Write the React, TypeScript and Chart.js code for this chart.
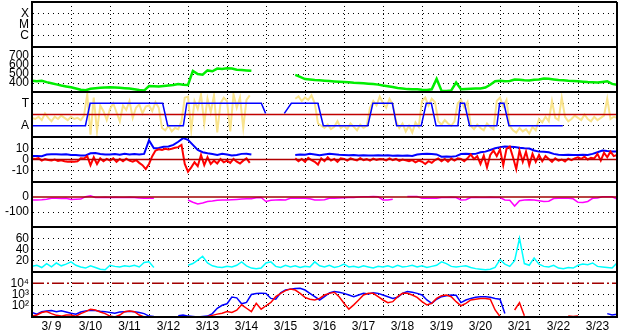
import React, { useEffect, useRef } from 'react';
import { Chart, registerables } from 'chart.js';

Chart.register(...registerables);

const FONT = { family: '"Liberation Sans", Arial, Helvetica, sans-serif', size: 12 };

// ---- time axis (days since 3/9 00:00) ----
const dayLabels = ['3/ 9', '3/10', '3/11', '3/12', '3/13', '3/14', '3/15', '3/16', '3/17', '3/18', '3/19', '3/20', '3/21', '3/22', '3/23'];
const dayTicks = [0, 1, 2, 3, 4, 5, 6, 7, 8, 9, 10, 11, 12, 13, 14, 15];
const X_MIN = 0;
const X_MAX = 15;
const STEP_3H = 1 / 8;
const STEP_2H = 1 / 12;

// ---- panel tick values / labels ----
const xrayTicks = [1e-6, 1e-5, 1e-4];
const xrayLabels = ['C', 'M', 'X'];
const speedTicks = [400, 500, 600, 700];
const sectorTicks = [-1, 1];
const sectorLabels = ['A', 'T'];
const bTicks = [-10, 0, 10];
const dstTicks = [-100, 0];
const idxTicks = [20, 40, 60];
const fluxTicks = [100, 1000, 10000];
const fluxLabels = ['10\u00B2', '10\u00B3', '10\u2074'];

// ---- reference levels ----
const sectorZero = 0;
const bZero = 0;
const dstZero = 0;
const fluxAlert = 10000;

// ---- solar wind speed (3-hourly) ----
const speedValues = [
  425, 420, 424, 410, 398, 385, 372, 362,
  352, 338, 325, 320, 335, 342, 346, 350,
  352, 350, 346, 342, 338, 330, 322, 316,
  367, 364, 360, 366, 372, 378, 388, 380,
  378, 535, 500, 492, 540, 530, 560, 555,
  565, 560, 548, 545, 540, 535, null, null,
  null, null, null, null, null, null, 490, 468,
  444, 440, 433, 430, 426, 422, 418, 415,
  412, 408, 403, 400, 396, 392, 389, 382,
  372, 365, 356, 345, 338, 332, 330, 330,
  325, 322, 330, 445, 315, 312, 318, 405,
  330, 332, 335, 338, 340, 350, 380, 420,
  425, 420, 422, 438, 435, 430, 428, 435,
  440, 450, 448, 440, 433, 430, 425, 422,
  420, 415, 410, 407, 405, 412, 420, 390,
  380,
];

// ---- IMF sector (blue step line) ----
const sectorTimes = [0, 1.37, 1.49, 3.35, 3.48, 3.88, 3.97, 5.88, 5.99, 6.2, 6.47, 6.65, 7.33, 7.47, 8.61, 8.74, 9.24, 9.35, 9.98, 10.11, 10.24, 10.36, 10.92, 10.98, 11.09, 11.22, 11.92, 11.99, 12.1, 12.23, 13.61];
const sectorValues = [-1, -1, 1, 1, -1, -1, 1, 1, 0.1, null, 0.1, 1, 1, -1, -1, 1, 1, -1, -1, 1, 1, -1, -1, 1, 1, -1, -1, 1, 1, -1, -1];

// ---- IMF angle (yellow, 2-hourly) ----
const phiValues = [
  -0.3, -0.4, -0.2, -0.5, 0.1, -0.3, -0.6, -0.2, -0.4, -0.1, -0.3, -0.5,
  -0.2, -0.4, -0.3, -0.5, -0.1, 1.8, -1.8, 1.5, -1.5, 0.8, 0.3, -0.5,
  0.5, 1.0, 0.2, -0.6, 0.8, 0.4, 1.2, -0.3, 0.6, 0.9, 0.1, 0.7,
  0.8, 0.3, 1.1, 0.6, -1.2, -1.4, -1.0, -1.5, -1.2, -1.3, -0.6, 1.5,
  1.6, -1.4, 1.2, 0.5, 1.8, -0.8, 1.4, 0.2, 1.7, -1.6, 1.0, 1.5,
  1.2, -1.5, 1.8, 0.6, 1.5, -1.2, 1.3, 1.7, null, null, null, null,
  null, null, null, null, null, null, null, null, null, 1.4, 1.6, 1.2,
  1.5, 1.3, 1.7, 1.0, -0.8, -1.0, -1.2, -0.9, -1.3, -1.1, -0.6, -1.2,
  -1.0, -1.3, -0.8, -1.1, -1.4, -0.9, -1.2, -1.0, 0.6, 1.2, 0.8, 1.6,
  1.0, 0.6, 1.4, 0.9, -0.6, -1.2, -0.8, -1.5, -1.0, -1.6, -0.7, -1.1,
  1.2, 1.5, 0.8, 1.4, 1.1, -0.6, -0.9, -0.5, -0.8, -1.0, -0.6, 1.0,
  1.3, 0.6, 1.1, -1.0, -1.3, -0.9, -1.2, -1.4, -0.8, -1.1, -1.3, 1.2,
  1.5, 0.7, 1.3, -1.0, -1.4, -1.6, -1.2, -1.5, -1.3, -1.7, -1.1, -1.4,
  -0.4, -0.7, -0.2, -0.6, 1.2, -0.3, -0.5, 1.5, -0.2, -0.6, -0.4, -0.1,
  -0.3, -0.5, 0.0, -0.4, -0.6, -0.2, -0.5, -0.3, -0.1, 1.4, -0.4, -0.2,
  -0.3,
];

// ---- IMF Bt (blue, 3-hourly) ----
const btValues = [
  3.0, 3.2, 3.0, 4.5, 4.6, 4.7, 4.5, 4.6,
  4.0, 4.0, 3.5, 3.6, 5.5, 5.7, 4.8, 4.5,
  4.5, 4.8, 4.2, 5.0, 4.5, 4.8, 4.5, 5.0,
  17.0, 10.0, 10.2, 11.4, 11.5, 13.0, 15.8, 19.0,
  17.5, 13.0, 8.5, 6.5, 5.5, 4.8, 4.0, 5.0,
  4.5, 3.5, 4.0, 5.0, 5.2, 4.5, null, null,
  null, null, null, null, null, null, 4.0, 4.5,
  4.2, 5.0, 4.5, 3.8, 4.5, 5.0, 4.6, 4.2,
  4.0, 3.8, 4.0, 3.5, 3.8, 3.6, 3.5, 3.8,
  3.5, 3.8, 3.4, 3.6, 3.3, 3.5, 3.2, 4.5,
  4.9, 5.0, 4.8, 4.5, 2.5, 2.6, 2.5, 3.0,
  4.9, 5.0, 4.8, 5.0, 6.5, 7.0, 8.5, 10.0,
  11.0, 11.5, 11.4, 11.2, 10.5, 10.0, 9.8, 8.0,
  7.0, 6.8, 6.5, 5.0, 4.2, 4.0, 4.2, 4.0,
  4.0, 4.2, 4.0, 5.0, 6.5, 7.9, 7.5, 7.2,
  7.0,
];

// ---- IMF Bz (red, 2-hourly) ----
const bzValues = [
  1.0, 0.5, 1.2, -1.0, 0.3, -0.5, -0.8, 0.0, -1.2, -0.6, -1.5, -1.9,
  -1.8, -2.0, -1.5, 1.0, 0.8, 3.0, -5.0, 2.0, -4.0, 1.0, -1.5, 0.5,
  -1.0, 1.0, -2.0, 0.5, -1.5, 0.8, -1.0, -2.0, -0.5, -3.0, -5.0, -8.5,
  -4.0, 3.0, 8.0, 9.0, 8.5, 9.5, 9.0, 9.5, 10.5, 11.0, 13.0, -4.0,
  -10.8, -7.0, -2.5, -6.0, 4.0, -5.0, 2.0, -4.0, -1.0, -3.5, 0.5, -2.5,
  -1.0, -3.0, 0.5, -2.0, -3.5, -1.0, 1.0, -3.0, null, null, null, null,
  null, null, null, null, null, null, null, null, null, 1.0, -1.5, 0.5,
  -2.0, 1.5, -0.5, -2.0, -4.5, 1.0, -1.5, 2.0, -1.0, 0.5, -2.0, 1.0,
  0.5, -1.0, 1.0, 0.0, -0.8, 1.2, -0.5, 0.3, -1.0, 0.8, -0.3, 0.5,
  0.2, -0.8, 1.0, -0.5, 0.5, -1.2, 0.0, -0.8, -1.5, -0.5, -2.5, -1.0,
  -2.0, -4.0, -1.5, -3.0, -0.5, 1.0, -1.5, 0.5, -2.0, 0.8, -1.0, 1.0,
  0.5, -1.5, 1.0, 4.5, 0.5, 3.0, -4.0, 3.5, -7.0, 4.0, 8.0, 3.0,
  9.0, -5.0, 9.5, 11.4, 2.0, -8.6, 8.0, -2.0, 7.0, -5.0, 5.0, -2.0,
  4.0, -1.5, 3.0, 0.5, -2.0, 1.0, -1.0, 0.0, -1.8, 0.8, -0.5, 1.0,
  2.0, 0.5, 2.5, 0.0, 1.5, 1.0, 5.0, -1.0, 6.0, 2.0, 7.0, 3.0,
  4.0,
];

// ---- Dst (magenta, 3-hourly) ----
const dstValues = [
  -20, -20, -18, -15, -9, -8, -10, -9,
  -16, -15, -14, 2, 8, -3, -3, -2,
  -3, -2, -4, -3, -2, -3, -6, -9,
  -9, -8, null, null, null, null, null, null,
  -20, -35, -47, -40, -30, -27, -22, -20,
  -20, -18, -16, -14, -12, -11, -5, -3,
  -30, -22, -20, -18, -20, -9, -8, -9,
  -8, -12, -20, -20, -18, -8, -9, -6,
  -5, -4, -3, 0, 2, 2, 3, 1,
  -20, -20, -15, null, null, 4, 4, 3,
  -9, -9, -8, -9, -3, -3, -2, -4,
  -20, -18, -3, -2, -3, -3, -2, -4,
  -4, -20, -22, -60, -25, -20, -18, -20,
  -25, -30, -28, -10, -9, -8, -9, -12,
  -35, -37, -30, -9, -6, 2, 2, 1,
  -13,
];

// ---- geomagnetic index (cyan, 3-hourly) ----
const idxValues = [
  10, 12, 8, 15, 9, 16, 11, 14,
  18, 12, 9, 7, 11, 8, 5, 4,
  12, 10, 9, 11, 10, 12, 9, 17,
  18, 8, null, null, null, null, null, null,
  12, 15, 21, 28, 16, 11, 9, 8,
  10, 9, 12, 18, 11, 7, 6, 7,
  16, 18, 10, 8, 12, 9, 11, 8,
  10, 9, 18, 11, 9, 12, 8, 10,
  14, 9, 10, 8, 11, 9, 7, 10,
  9, 11, 8, 12, 9, 10, 12, 9,
  11, 8, 10, 12, 18, 15, 10, 9,
  10, 11, 8, 6, 5, 4, 5, 8,
  22, 14, 10, 20, 60, 15, 12, 25,
  14, 10, 9, 12, 7, 6, 8, 7,
  12, 14, 13, 16, 10, 9, 8, 7,
  16,
];

// ---- electron flux (3-hourly) ----
const fluxBlueValues = [
  25, 18, 30, 35, 38, 30, 35, 28,
  22, 18, 28, 35, 40, 38, 32, 30,
  25, 22, 28, 30, 32, 30, 25, 20,
  12, 11, null, null, null, null, 13, 15,
  12, 11, 10, 11, 12, 20, 60, 110,
  150, 600, 500, 150, 200, 1000, 1200, 1300,
  1260, 450, 380, 1400, 2500, 3000, 3400, 3550,
  2500, 1260, 640, 325, 640, 1400, 1800, 1600,
  1260, 900, 640, 900, 1260, 1100, 1400, 1260,
  900, 640, 450, 560, 1260, 1800, 1600, 1260,
  900, 325, 165, 380, 640, 780, 900, 850,
  190, 325, 450, 560, 640, 640, 560, 450,
  380, 20, null, null, 42, null, null, null,
  null, null, null, null, null, null, null, null,
  null, null, null, null, null, null, 20, 15,
  18,
];
const fluxRedValues = [
  12, 15, 25, 30, 20, 14, 12, 15,
  15, 12, 20, 30, 48, 42, 28, 20,
  12, 10, 15, 30, 34, 30, 15, 10,
  null, null, null, null, null, null, null, null,
  null, null, null, 10, 11, 14, 18, 22,
  30, 25, 40, 120, 60, 30, 165, 50,
  100, 200, 640, 1260, 2200, 3000, 2500, 1260,
  560, 380, 325, 450, 900, 1260, 1600, 640,
  165, 50, 120, 325, 900, 1260, 1260, 640,
  325, 190, 230, 640, 1260, 1260, 900, 560,
  230, 120, 165, 450, 780, 900, 640, 230,
  100, 165, 325, 380, 450, 450, 380, 42,
  11, null, null, 42, 190, 13, null, null,
  null, null, null, null, null, null, 12, 11,
  12, null, null, null, null, null, null, null,
  null,
];

// ---- helpers ----
const pts = (vals: (number | null)[], step: number) => vals.map((v, i) => ({ x: i * step, y: v }));
const pairPts = (xs: number[], ys: (number | null)[]) => xs.map((x, i) => ({ x, y: ys[i] }));
const level = (v: number) => [{ x: X_MIN, y: v }, { x: X_MAX, y: v }];

const line = (label: string, yAxisID: string, data: any[], color: string, width: number, order: number, extra: any = {}) => ({
  label,
  yAxisID,
  data,
  borderColor: color,
  backgroundColor: color,
  borderWidth: width,
  pointRadius: 0,
  tension: 0,
  fill: false,
  spanGaps: false,
  order,
  ...extra,
});

const PANEL_IDS = ['yXray', 'ySpeed', 'ySector', 'yB', 'yDst', 'yIdx', 'yFlux'];

function yAxis(opts: { type?: string; min: number; max: number; ticks: number[]; labels?: string[]; hide?: number[]; weight: number }) {
  return {
    type: opts.type || 'linear',
    position: 'left',
    stack: 'panels',
    stackWeight: 1,
    weight: opts.weight,
    min: opts.min,
    max: opts.max,
    afterFit: (s: any) => {
      s.width = 30;
      s.paddingTop = 0;
      s.paddingBottom = 0;
      s.paddingLeft = 0;
      s.paddingRight = 0;
    },
    afterBuildTicks: (s: any) => { s.ticks = opts.ticks.map((v) => ({ value: v })); },
    grid: {
      color: (ctx: any) => (opts.hide && ctx.tick && opts.hide.includes(ctx.tick.value) ? 'rgba(0,0,0,0)' : '#000'),
      lineWidth: 1,
      drawTicks: false,
      tickLength: 0,
    },
    border: { display: true, color: '#000', width: 2, dash: [1, 4] },
    ticks: {
      autoSkip: false,
      padding: 3,
      color: '#000',
      font: FONT,
      callback: (v: any, i: number) => (opts.labels ? opts.labels[i] : String(v)),
    },
  };
}

const framePlugin = {
  id: 'panelFrame',
  afterDatasetsDraw(chart: any) {
    const { ctx, chartArea } = chart;
    const { left, right, top, bottom } = chartArea;
    ctx.save();
    ctx.strokeStyle = '#000';
    ctx.lineWidth = 2;
    ctx.setLineDash([]);
    ctx.beginPath();
    for (const id of PANEL_IDS) {
      const s = chart.scales[id];
      if (!s) continue;
      ctx.moveTo(left, s.top);
      ctx.lineTo(right, s.top);
      ctx.moveTo(left, s.bottom);
      ctx.lineTo(right, s.bottom);
    }
    ctx.moveTo(left, top);
    ctx.lineTo(left, bottom);
    ctx.moveTo(right, top);
    ctx.lineTo(right, bottom);
    ctx.stroke();
    ctx.restore();
  },
};

export default function App() {
  const ref = useRef<HTMLCanvasElement>(null);

  useEffect(() => {
    if (!ref.current) return;
    const datasets: any[] = [
      line('Speed', 'ySpeed', pts(speedValues, STEP_3H), '#00ee00', 2.5, 1),

      line('Sector', 'ySector', pairPts(sectorTimes, sectorValues), '#0000ff', 1.5, 1),
      line('Sector zero', 'ySector', level(sectorZero), '#c00000', 1.5, 2),
      line('Angle', 'ySector', pts(phiValues, STEP_2H), '#f9e38c', 2, 3),

      line('B zero', 'yB', level(bZero), '#b00000', 1.5, 1),
      line('Bz', 'yB', pts(bzValues, STEP_2H), '#ff0000', 2, 2),
      line('Bt', 'yB', pts(btValues, STEP_3H), '#0000ff', 2, 3),

      line('Dst zero', 'yDst', level(dstZero), '#a00000', 1.5, 1),
      line('Dst', 'yDst', pts(dstValues, STEP_3H), '#ff00ff', 1.5, 2),

      line('Index', 'yIdx', pts(idxValues, STEP_3H), '#00ffff', 1.5, 1),

      line('Alert', 'yFlux', level(fluxAlert), '#a00000', 1.5, 1, { borderDash: [12, 3, 2, 3] }),
      line('Flux red', 'yFlux', pts(fluxRedValues, STEP_3H), '#ff0000', 1.5, 2),
      line('Flux blue', 'yFlux', pts(fluxBlueValues, STEP_3H), '#0000ff', 1.5, 3),
    ];

    const chart = new Chart(ref.current, {
      type: 'line',
      data: { datasets },
      plugins: [framePlugin],
      options: {
        responsive: false,
        animation: false,
        devicePixelRatio: 1,
        layout: { padding: { left: 2, top: 2, right: 11, bottom: 0 } },
        plugins: { legend: { display: false }, tooltip: { enabled: false } },
        scales: {
          x: {
            type: 'linear',
            position: 'bottom',
            min: X_MIN,
            max: X_MAX,
            afterBuildTicks: (s: any) => { s.ticks = dayTicks.map((v) => ({ value: v })); },
            afterFit: (s: any) => {
              s.height = 17;
              s.paddingLeft = 0;
              s.paddingRight = 0;
              s.paddingTop = 0;
              s.paddingBottom = 0;
            },
            grid: { color: '#000', lineWidth: 1, drawTicks: false, tickLength: 0 },
            border: { display: true, color: '#000', width: 2, dash: [1, 3] },
            ticks: {
              autoSkip: false,
              maxRotation: 0,
              padding: 2,
              labelOffset: 19.5,
              color: '#000',
              font: FONT,
              callback: (v: any, i: number) => dayLabels[i] ?? '',
            },
          },
          yXray: yAxis({ type: 'logarithmic', min: 1e-7, max: 1e-3, ticks: xrayTicks, labels: xrayLabels, weight: 7 }),
          ySpeed: yAxis({ min: 300, max: 800, ticks: speedTicks, weight: 6 }),
          ySector: yAxis({ min: -2, max: 2, ticks: sectorTicks, labels: sectorLabels, weight: 5 }),
          yB: yAxis({ min: -20, max: 20, ticks: bTicks, hide: [0], weight: 4 }),
          yDst: yAxis({ min: -200, max: 100, ticks: dstTicks, hide: [0], weight: 3 }),
          yIdx: yAxis({ min: 0, max: 80, ticks: idxTicks, weight: 2 }),
          yFlux: yAxis({ type: 'logarithmic', min: 10, max: 1e5, ticks: fluxTicks, labels: fluxLabels, hide: [10000], weight: 1 }),
        } as any,
      },
    } as any);
    return () => chart.destroy();
  }, []);

  return (
    <div style={{ position: 'fixed', left: 0, top: 0, width: 628, height: 334, background: '#fff' }}>
      <canvas ref={ref} width={628} height={334} style={{ display: 'block', width: 628, height: 334 }} />
    </div>
  );
}
